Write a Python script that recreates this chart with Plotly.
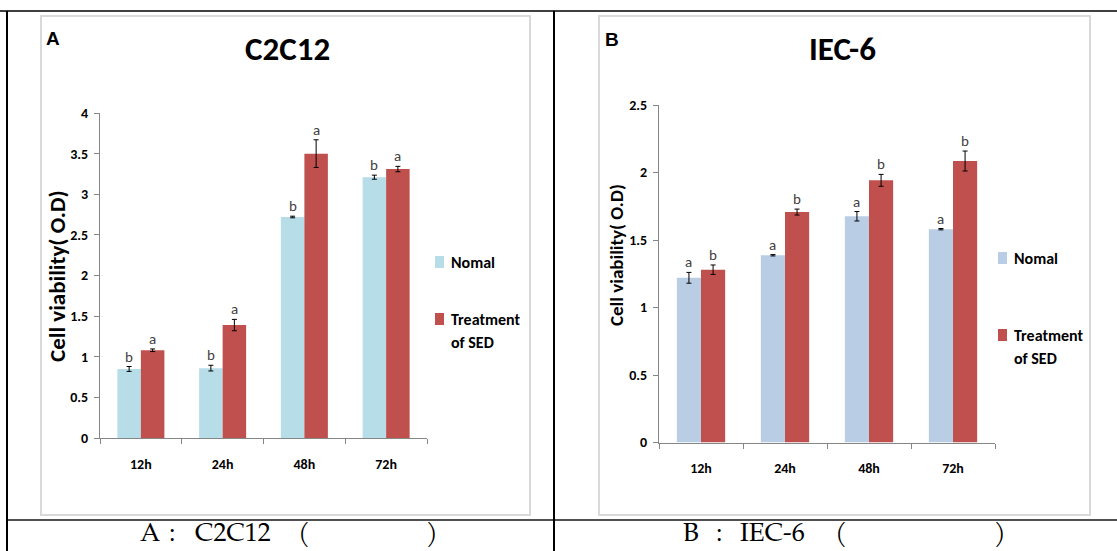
import plotly.graph_objects as go

W, H = 1117, 551

# ---------------- data ----------------
categories = ["12h", "24h", "48h", "72h"]

c2c12_nomal = [0.85, 0.86, 2.72, 3.21]
c2c12_nomal_err = [0.03, 0.035, 0.01, 0.025]
c2c12_treat = [1.08, 1.39, 3.50, 3.31]
c2c12_treat_err = [0.016, 0.07, 0.17, 0.033]
c2c12_nomal_letters = ["b", "b", "b", "b"]
c2c12_treat_letters = ["a", "a", "a", "a"]

iec6_nomal = [1.22, 1.387, 1.676, 1.58]
iec6_nomal_err = [0.04, 0.005, 0.035, 0.005]
iec6_treat = [1.28, 1.707, 1.942, 2.085]
iec6_treat_err = [0.035, 0.022, 0.044, 0.074]
iec6_nomal_letters = ["a", "a", "a", "a"]
iec6_treat_letters = ["b", "b", "b", "b"]

c2c12_ticks = [0, 0.5, 1, 1.5, 2, 2.5, 3, 3.5, 4]
c2c12_ticktext = ["0", "0.5", "1", "1.5", "2", "2.5", "3", "3.5", "4"]
iec6_ticks = [0, 0.5, 1, 1.5, 2, 2.5]
iec6_ticktext = ["0", "0.5", "1", "1.5", "2", "2.5"]

series_names = ["Nomal", "Treatment", "of SED"]

# ---------------- styles ----------------
FONT = "Calibri, Carlito, 'Liberation Sans Narrow', 'DejaVu Sans Condensed', 'Open Sans', sans-serif"
SERIF = "'Book Antiqua', Palatino, 'TeX Gyre Pagella', 'URW Palladio L', 'Liberation Serif', 'DejaVu Serif', serif"
C_LBLUE = "#B7DDE8"
C_SBLUE = "#B9CDE5"
C_RED = "#C0504D"
AXIS_C = "#868686"


def px(x):
    return x / W


def py(y):
    return 1 - y / H


fig = go.Figure()

BARGAP = 0.425
half = (1 - BARGAP) / 4  # center offset of each bar in category units


def add_pair(xa, ya, nomal, nerr, treat, terr, ncolor):
    fig.add_trace(go.Bar(
        x=categories, y=nomal, name="Nomal", marker=dict(color=ncolor, line=dict(width=0)),
        error_y=dict(type="data", array=nerr, color="black", thickness=1, width=2.5),
        xaxis=xa, yaxis=ya, showlegend=False))
    fig.add_trace(go.Bar(
        x=categories, y=treat, name="Treatment of SED", marker=dict(color=C_RED, line=dict(width=0)),
        error_y=dict(type="data", array=terr, color="black", thickness=1, width=2.5),
        xaxis=xa, yaxis=ya, showlegend=False))


add_pair("x", "y", c2c12_nomal, c2c12_nomal_err, c2c12_treat, c2c12_treat_err, C_LBLUE)
add_pair("x2", "y2", iec6_nomal, iec6_nomal_err, iec6_treat, iec6_treat_err, C_SBLUE)

annotations = []


def letters(xref, yref, vals, errs, labs, sign):
    for i, (v, e, l) in enumerate(zip(vals, errs, labs)):
        annotations.append(dict(
            x=i + sign * half, y=v + e, xref=xref, yref=yref, text=l, showarrow=False,
            xanchor="center", yanchor="bottom", yshift=-1,
            font=dict(family=FONT, size=15, color="#404040")))


letters("x", "y", c2c12_nomal, c2c12_nomal_err, c2c12_nomal_letters, -1)
letters("x", "y", c2c12_treat, c2c12_treat_err, c2c12_treat_letters, 1)
letters("x2", "y2", iec6_nomal, iec6_nomal_err, iec6_nomal_letters, -1)
letters("x2", "y2", iec6_treat, iec6_treat_err, iec6_treat_letters, 1)

axis_common = dict(showgrid=False, zeroline=False, showline=True, linecolor=AXIS_C, linewidth=1,
                   ticks="outside", tickcolor=AXIS_C, ticklen=5, tickwidth=1,
                   tickfont=dict(family=FONT, size=14, color="black", weight="bold"), fixedrange=True)

fig.update_layout(
    width=W, height=H, margin=dict(l=0, r=0, t=0, b=0, autoexpand=False),
    paper_bgcolor="white", plot_bgcolor="white",
    barmode="group", bargap=BARGAP, bargroupgap=0,
    xaxis=dict(domain=[px(100), px(427)], anchor="y", tickson="boundaries",
               ticklabelstandoff=13, **axis_common),
    yaxis=dict(domain=[py(438), py(113)], anchor="x", range=[0, 4],
               tickvals=c2c12_ticks, ticktext=c2c12_ticktext, ticklabelstandoff=3, **axis_common),
    xaxis2=dict(domain=[px(659), px(995)], anchor="y2", tickson="boundaries",
                ticklabelstandoff=13, **axis_common),
    yaxis2=dict(domain=[py(442.5), py(105)], anchor="x2", range=[0, 2.5],
                tickvals=iec6_ticks, ticktext=iec6_ticktext, ticklabelstandoff=3, **axis_common),
)

shapes = []
# table lines
shapes.append(dict(type="line", xref="paper", yref="paper", x0=0, x1=1, y0=py(11), y1=py(11),
                   line=dict(color="#404040", width=2)))
shapes.append(dict(type="line", xref="paper", yref="paper", x0=px(7), x1=1, y0=py(520), y1=py(520),
                   line=dict(color="#505050", width=2)))
shapes.append(dict(type="line", xref="paper", yref="paper", x0=px(7), x1=px(7), y0=py(11), y1=0,
                   line=dict(color="black", width=2)))
shapes.append(dict(type="line", xref="paper", yref="paper", x0=px(554), x1=px(554), y0=py(11), y1=0,
                   line=dict(color="black", width=2)))
# chart frames
for (x0, x1) in [(41, 530), (599, 1090)]:
    shapes.append(dict(type="rect", xref="paper", yref="paper", x0=px(x0), x1=px(x1), y0=py(515), y1=py(16),
                       line=dict(color="#D9D9D9", width=2), fillcolor="rgba(0,0,0,0)"))

# legends (manual)
legend_specs = [
    (435, 262, 319, 342, C_LBLUE),
    (998, 258, 335, 358, C_SBLUE),
]
for (lx, ny, ty, sy, ncol) in legend_specs:
    for (yc, col) in [(ny, ncol), (ty, C_RED)]:
        shapes.append(dict(type="rect", xref="paper", yref="paper", x0=px(lx), x1=px(lx + 9),
                           y0=py(yc + 6), y1=py(yc - 6), line=dict(width=0), fillcolor=col))
    for (yy, t) in [(ny, series_names[0]), (ty, series_names[1]), (sy, series_names[2])]:
        annotations.append(dict(x=px(lx + 14), y=py(yy), xref="paper", yref="paper", text=t,
                                showarrow=False, xanchor="left", yanchor="middle",
                                font=dict(family=FONT, size=16, color="black", weight="bold")))

# titles and panel letters
annotations += [
    dict(x=px(287), y=py(49), xref="paper", yref="paper", text="C2C12", showarrow=False,
         xanchor="center", yanchor="middle", font=dict(family=FONT, size=33, color="black", weight="bold")),
    dict(x=px(842), y=py(49), xref="paper", yref="paper", text="IEC-6", showarrow=False,
         xanchor="center", yanchor="middle", font=dict(family=FONT, size=33, color="black", weight="bold")),
    dict(x=px(44), y=py(38), xref="paper", yref="paper", text="A", showarrow=False,
         xanchor="left", yanchor="middle", font=dict(family="Liberation Sans, Arial, sans-serif", size=19, color="black", weight="bold")),
    dict(x=px(603), y=py(39), xref="paper", yref="paper", text="B", showarrow=False,
         xanchor="left", yanchor="middle", font=dict(family="Liberation Sans, Arial, sans-serif", size=19, color="black", weight="bold")),
    dict(x=px(57), y=py(276), xref="paper", yref="paper", text="Cell viability( O.D)", showarrow=False,
         textangle=-90, xanchor="center", yanchor="middle", font=dict(family=FONT, size=23, color="black", weight="bold")),
    dict(x=px(617), y=py(255), xref="paper", yref="paper", text="Cell viability( O.D)", showarrow=False,
         textangle=-90, xanchor="center", yanchor="middle", font=dict(family=FONT, size=19, color="black", weight="bold")),
]

# captions
cap_font = dict(family=SERIF, size=26, color="black")
for (xx, t) in [(138, "A"), (167, ":"), (193, "C2C12"), (296, "("), (424, ")"),
                (681, "B"), (714, ":"), (738, "IEC-6"), (833, "("), (992, ")")]:
    annotations.append(dict(x=px(xx), y=0, xref="paper", yref="paper", text=t, showarrow=False,
                            xanchor="left", yanchor="bottom", yshift=1, font=cap_font))

fig.update_layout(shapes=shapes, annotations=annotations)

fig.write_html("out.html")
